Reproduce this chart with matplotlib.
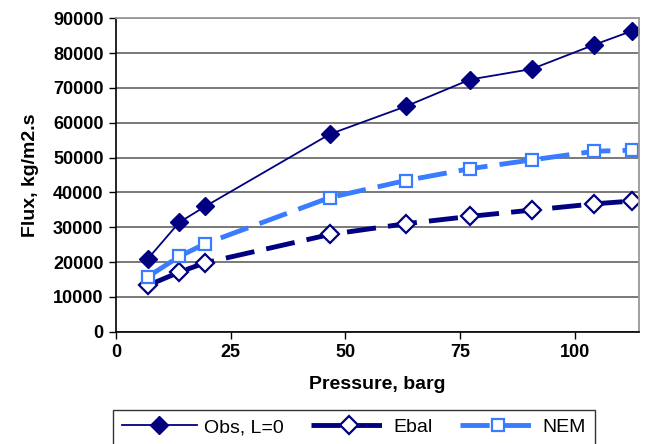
import matplotlib.pyplot as plt

plt.rcParams['font.family'] = ['Liberation Sans', 'DejaVu Sans']

# === data ===
pressure = [7, 13.8, 19.5, 46.6, 63.2, 77.2, 90.6, 104.3, 112.4]
obs = [21000, 31400, 36000, 56700, 64700, 72400, 75400, 82400, 86300]
ebal = [13300, 17100, 19800, 27900, 31000, 33100, 34900, 36700, 37500]
nem = [15800, 21600, 25300, 38500, 43400, 46800, 49300, 51800, 52100]

x_ticks = [0, 25, 50, 75, 100]
y_ticks = list(range(0, 90001, 10000))

navy = "#000080"
light = "#3A7CFF"

fig = plt.figure(figsize=(6.48, 4.44), dpi=100)
ax = fig.add_axes([0.179, 0.253, 0.807, 0.706])

ax.plot(pressure, obs, color=navy, lw=1.3, marker="D", ms=9,
        mfc=navy, mec=navy, label="Obs, L=0")
ax.plot(pressure, ebal, color=navy, lw=3.5, dashes=(6, 2.5), marker="D", ms=9.5,
        mfc="white", mec=navy, mew=1.6, label="Ebal")
ax.plot(pressure, nem, color=light, lw=3.5, dashes=(6, 2.5), marker="s", ms=9,
        mfc="white", mec=light, mew=1.6, label="NEM")

ax.set_xlim(0, 114)
ax.set_ylim(0, 90000)
ax.set_xticks(x_ticks)
ax.set_yticks(y_ticks)
ax.grid(axis="y", color="#555555", lw=1.1)
ax.set_axisbelow(True)

for side in ["top", "right"]:
    ax.spines[side].set_color("#999999")
    ax.spines[side].set_linewidth(1.3)
for side in ["left", "bottom"]:
    ax.spines[side].set_color("black")
    ax.spines[side].set_linewidth(1.2)

ax.tick_params(direction="out", length=5, width=1, labelsize=13, pad=4)
for lab in ax.get_xticklabels() + ax.get_yticklabels():
    lab.set_fontweight("bold")

ax.set_xlabel("Pressure, barg", fontsize=14, fontweight="bold", labelpad=11)
ax.set_ylabel("Flux, kg/m2.s", fontsize=14, fontweight="bold", labelpad=10)

leg = fig.legend(loc="upper left", bbox_to_anchor=(0.174, 0.077),
                 ncol=3, fontsize=14, frameon=True, fancybox=False,
                 handlelength=3.9, handletextpad=0.35, borderpad=0.45,
                 columnspacing=1.4, borderaxespad=0)
leg.get_frame().set_edgecolor("black")
leg.get_frame().set_linewidth(1.0)

fig.savefig("out.png", dpi=100)
